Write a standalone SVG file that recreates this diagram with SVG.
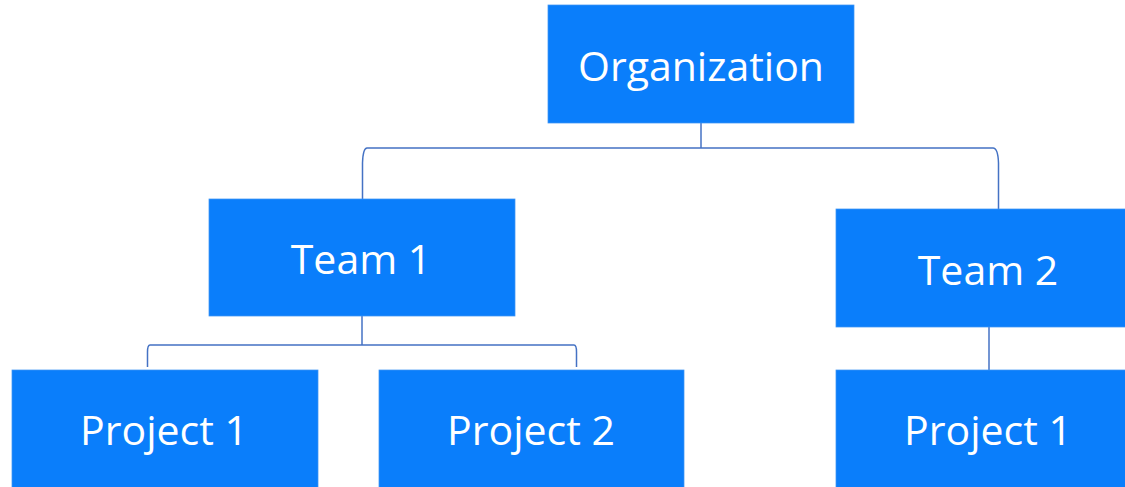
<svg xmlns="http://www.w3.org/2000/svg" width="1125" height="487" viewBox="0 0 1125 487">
<style>
.box{fill:#0A7EFB;stroke:#3F95F5;stroke-width:0.75}
.lbl{fill:#FFFFFF;font-family:"Open Sans","Noto Sans","Liberation Sans",sans-serif;font-size:41px;text-anchor:middle}
.conn{fill:none;stroke:#4472C4;stroke-width:1.5}
</style>
<rect width="1125" height="487" fill="#FFFFFF"/>
<g id="connectors">
<path class="conn" d="M701,123 V148"/>
<path class="conn" d="M701,148 H367 Q363,148 362.5,163 V199"/>
<path class="conn" d="M701,148 H993 Q998,148 998.5,163 V209"/>
<path class="conn" d="M362,316 V345"/>
<path class="conn" d="M362,345 H150 Q147.5,345 147.5,352 V367"/>
<path class="conn" d="M362,345 H574 Q576.5,345 576.5,352 V367"/>
<path class="conn" d="M989,327 V370"/>
</g>
<g id="organization">
<rect class="box" x="548" y="5" width="306" height="118"/>
<text class="lbl" x="701" y="81">Organization</text>
</g>
<g id="team1">
<rect class="box" x="209" y="199" width="306" height="117"/>
<text class="lbl" x="361" y="274">Team 1</text>
</g>
<g id="team2">
<rect class="box" x="836" y="209" width="306" height="118"/>
<text class="lbl" x="988" y="285">Team 2</text>
</g>
<g id="team1-project1">
<rect class="box" x="12" y="370" width="306" height="118"/>
<text class="lbl" x="164" y="445">Project 1</text>
</g>
<g id="team1-project2">
<rect class="box" x="379" y="370" width="305" height="118"/>
<text class="lbl" x="531" y="445">Project 2</text>
</g>
<g id="team2-project1">
<rect class="box" x="836" y="370" width="306" height="118"/>
<text class="lbl" x="988" y="445">Project 1</text>
</g>
</svg>
